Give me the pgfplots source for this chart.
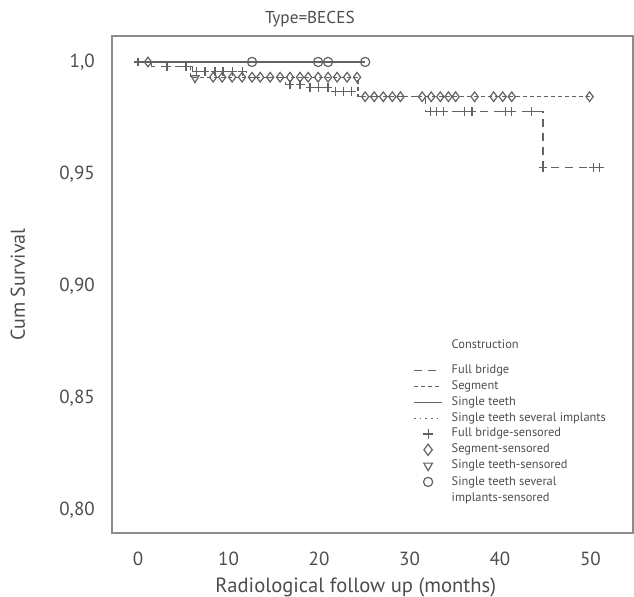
\documentclass[border=0pt]{standalone}
\usepackage{fontspec}
\setmainfont{PT Sans}
\usepackage{pgfplots}
\pgfplotsset{compat=1.18}
\definecolor{txt}{HTML}{4D4D4D}
\definecolor{frame}{HTML}{8C8C8C}
\definecolor{curve}{HTML}{626262}

\begin{document}
\begin{tikzpicture}
\begin{axis}[
    scale only axis,
    width=260.6pt, height=248.5pt,
    xmin=-2.9, xmax=54.7, ymin=0.7897, ymax=1.0116,
    axis line style={frame, line width=1pt},
    major tick length=0pt,
    xtick={0,10,20,30,40,50}, xticklabels={0,10,20,30,40,50},
    ytick={0.8,0.85,0.9,0.95,1.0},
    yticklabels={{0,80},{0,85},{0,90},{0,95},{1,0}},
    tick label style={font=\fontsize{9.5}{11}\selectfont, text=txt},
    xticklabel style={yshift=-6pt},
    yticklabel style={xshift=-5pt},
    every axis title shift=0pt,
    title={Type=BECES},
    title style={at={(axis description cs:0.38,1)}, anchor=center, yshift=8.5pt,
        font=\fontsize{8.6}{10}\selectfont, text=txt},
    xlabel={Radiological follow up (months)},
    xlabel style={at={(axis description cs:0.468,0)}, anchor=center, yshift=-27.3pt,
        font=\fontsize{10.3}{12}\selectfont, text=txt},
    ylabel={Cum Survival},
    ylabel style={at={(axis description cs:-0.18,0.5)}, anchor=center,
        font=\fontsize{10}{12}\selectfont, text=txt},
    legend cell align=left,
    legend style={at={(axis cs:30.4,0.8765)}, anchor=north west, draw=none, fill=none,
        font=\fontsize{6.2}{7}\selectfont, text=txt, inner sep=0pt,
        row sep=1.0pt, nodes={inner sep=0.5pt},
        /tikz/every odd column/.style={column sep=4pt}},
    legend image code/.code={\draw[mark repeat=2, mark phase=2, #1]
        plot coordinates {(0pt,0pt) (7pt,0pt) (14pt,0pt)};},
    every axis plot/.append style={curve, line width=0.6pt},
]
% legend
\addlegendimage{empty legend}
\addlegendentry{\raisebox{4.5pt}{Construction}}
\addlegendimage{dash pattern=on 4pt off 3pt}
\addlegendentry{Full bridge}
\addlegendimage{dash pattern=on 2pt off 1.5pt}
\addlegendentry{Segment}
\addlegendimage{solid}
\addlegendentry{Single teeth}
\addlegendimage{dash pattern=on 0.8pt off 2pt}
\addlegendentry{Single teeth several implants}
\addlegendimage{only marks, mark=+, mark size=2.5pt}
\addlegendentry{Full bridge-sensored}
\addlegendimage{only marks, mark=diamond, mark size=2.8pt}
\addlegendentry{Segment-sensored}
\addlegendimage{only marks, mark=triangle, mark options={rotate=180}, mark size=2.5pt}
\addlegendentry{Single teeth-sensored}
\addlegendimage{only marks, mark=o, mark size=2.3pt}
\addlegendentry{\begin{tabular}[t]{@{}l@{}}Single teeth several\\[1pt]implants-sensored\end{tabular}}

% Full bridge
\addplot[forget plot, const plot, dash pattern=on 4pt off 3pt] coordinates {
    (0,1.0) (1.5,0.9979) (6.0,0.9957) (12.0,0.9932) (16.3,0.9900) (18.4,0.9885)
    (21.3,0.9870) (24.3,0.9845) (31.8,0.9778) (44.75,0.953) (51.0,0.953)
};
\addplot[forget plot, only marks, mark=+, mark size=2.2pt] coordinates {
    (0,1.0)
    (3.2,0.9979) (5.3,0.9979)
    (6.5,0.9957) (7.4,0.9957) (8.5,0.9957) (9.4,0.9957) (10.4,0.9957) (11.5,0.9957)
    (16.8,0.9900) (17.9,0.9900)
    (19.0,0.9885) (19.9,0.9885) (21.0,0.9885)
    (21.8,0.9870) (22.7,0.9870) (23.6,0.9870)
    (32.3,0.9778) (33.0,0.9778) (33.8,0.9778) (36.1,0.9778) (36.9,0.9778)
    (40.6,0.9778) (41.3,0.9778) (43.5,0.9778)
    (44.75,0.953) (50.3,0.953) (51.0,0.953)
};
% Segment
\addplot[forget plot, const plot, dash pattern=on 2pt off 1.5pt] coordinates {
    (0,1.0) (5.8,0.9932) (24.3,0.9845) (49.9,0.9845)
};
\addplot[forget plot, only marks, mark=diamond, mark size=2.4pt, mark options={fill=white}] coordinates {
    (1.1,1.0)
    (8.3,0.9932) (9.3,0.9932) (10.4,0.9932) (11.5,0.9932) (12.6,0.9932) (13.5,0.9932)
    (14.6,0.9932) (15.7,0.9932) (16.8,0.9932) (17.9,0.9932) (18.8,0.9932) (19.9,0.9932)
    (21.0,0.9932) (22.0,0.9932) (23.1,0.9932) (24.2,0.9932)
    (25.1,0.9845) (26.1,0.9845) (27.1,0.9845) (28.1,0.9845) (29.0,0.9845)
    (31.4,0.9845) (32.4,0.9845) (33.4,0.9845) (34.3,0.9845) (35.1,0.9845)
    (37.2,0.9845) (39.3,0.9845) (40.3,0.9845) (41.3,0.9845) (49.9,0.9845)
};
% Single teeth
\addplot[forget plot, only marks, mark=triangle, mark size=2.3pt, mark options={rotate=180, fill=white}] coordinates {
    (6.3,0.9928)
};
% Single teeth several implants
\addplot[forget plot, const plot, solid] coordinates {
    (0,1.0) (25.1,1.0)
};
\addplot[forget plot, only marks, mark=o, mark size=2.3pt, mark options={fill=white}] coordinates {
    (12.6,1.0) (19.9,1.0) (21.0,1.0) (25.1,1.0)
};
\end{axis}
\pgfresetboundingbox
\path[use as bounding box] ([xshift=-55.9pt,yshift=-31.5pt]current axis.south west)
    rectangle ([xshift=0.5pt,yshift=18pt]current axis.north east);
\end{tikzpicture}
\end{document}
